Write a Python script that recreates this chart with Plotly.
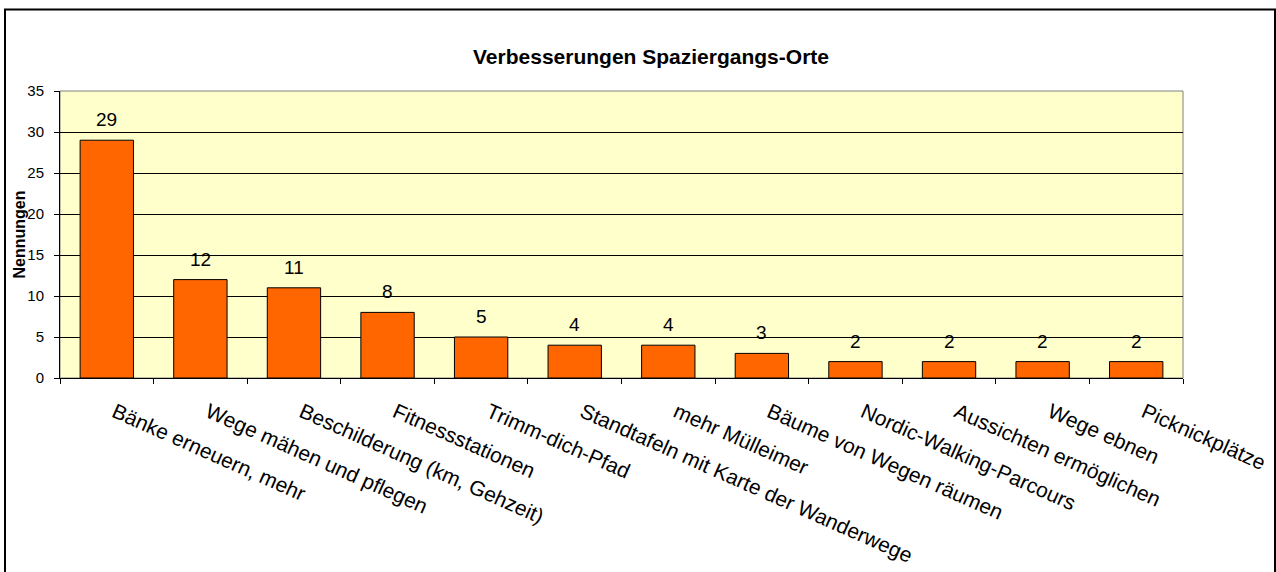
import plotly.graph_objects as go

categories = [
    "Bänke erneuern, mehr",
    "Wege mähen und pflegen",
    "Beschilderung (km, Gehzeit)",
    "Fitnessstationen",
    "Trimm-dich-Pfad",
    "Standtafeln mit Karte der Wanderwege",
    "mehr Mülleimer",
    "Bäume von Wegen räumen",
    "Nordic-Walking-Parcours",
    "Aussichten ermöglichen",
    "Wege ebnen",
    "Picknickplätze",
]
values = [29, 12, 11, 8, 5, 4, 4, 3, 2, 2, 2, 2]
y_ticks = [0, 5, 10, 15, 20, 25, 30, 35]

title_text = "Verbesserungen Spaziergangs-Orte"
y_title = "Nennungen"

W, H = 1276, 572
L, R, T, B = 60, 93, 91, 194
pw, ph = W - L - R, H - T - B

def px_x(x):
    return (x - L) / pw

def px_y(y):
    return (H - B - y) / ph

FONT = "Liberation Sans, Arial, sans-serif"

fig = go.Figure()
fig.add_trace(go.Bar(
    x=categories,
    y=values,
    width=0.57,
    marker=dict(color="#FF6600", line=dict(color="#000000", width=1)),
    hoverinfo="x+y",
))

annotations = []
for c, v in zip(categories, values):
    annotations.append(dict(
        x=c, y=v, xref="x", yref="y", text=str(v), showarrow=False,
        yanchor="bottom", yshift=8,
        font=dict(family=FONT, size=19, color="#000000"),
    ))
annotations.append(dict(
    x=px_x(19), y=0.5, xref="paper", yref="paper", text="<b>%s</b>" % y_title,
    textangle=-90, showarrow=False, xanchor="center", yanchor="middle",
    font=dict(family=FONT, size=16, color="#000000"),
))
fig.update_layout(annotations=annotations)

shapes = [
    dict(type="rect", xref="paper", yref="paper", x0=0, x1=1, y0=0, y1=1,
         line=dict(color="#808080", width=1), layer="below"),
    dict(type="rect", xref="paper", yref="paper",
         x0=px_x(5), x1=px_x(1275), y0=px_y(600), y1=px_y(9.5),
         line=dict(color="#000000", width=2), layer="above"),
]

fig.update_layout(
    width=W, height=H,
    margin=dict(l=L, r=R, t=T, b=B, pad=0, autoexpand=False),
    paper_bgcolor="#FFFFFF",
    plot_bgcolor="#FFFFCC",
    showlegend=False,
    shapes=shapes,
    title=dict(text="<b>%s</b>" % title_text, x=651 / W, xanchor="center",
               y=1 - 57 / H, yanchor="middle", yref="container",
               font=dict(family=FONT, size=21, color="#000000")),
    bargap=0.43,
)

fig.update_xaxes(
    type="category",
    automargin=False,
    tickangle=24,
    tickson="boundaries",
    ticks="outside", ticklen=5, tickcolor="#000000", tickwidth=1,
    showline=True, linecolor="#000000", linewidth=1,
    showgrid=False,
    tickfont=dict(family=FONT, size=21, color="#000000"),
    ticklabelstandoff=13,
    ticklabelshift=8,
)
fig.update_yaxes(
    range=[0, 35],
    automargin=False,
    tickvals=y_ticks,
    ticks="outside", ticklen=5, tickcolor="#000000", tickwidth=1,
    showline=True, linecolor="#000000", linewidth=1,
    showgrid=True, gridcolor="#000000", gridwidth=1,
    zeroline=False,
    tickfont=dict(family=FONT, size=15, color="#000000"),
    ticklabelstandoff=7,
)

fig.write_html(
    "out.html",
    config={"displayModeBar": False},
    post_script="document.body.style.margin='0px';document.body.style.overflow='hidden';",
)
